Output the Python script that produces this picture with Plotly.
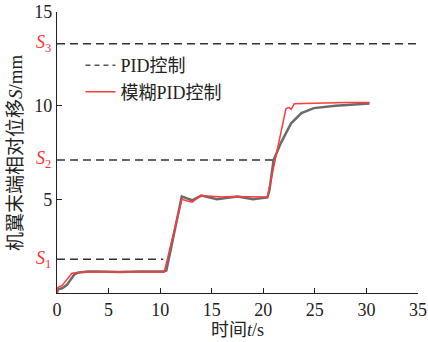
import plotly.graph_objects as go

# time (s) and displacement (mm)
t_pid = [0, 0.1, 0.5, 1.0, 1.3, 1.7, 2.0, 3, 4, 6, 8, 10.3, 10.6, 11.4, 12.1, 12.6, 13.1, 14.0, 15.5, 17.5, 19.0, 20.4,
         20.6, 21.0, 21.7, 22.7, 23.7, 24.9, 27.0, 30.3]
s_pid = [0, 0.2, 0.25, 0.45, 0.7, 1.0, 1.08, 1.15, 1.15, 1.12, 1.15, 1.15, 1.2, 3.3, 5.15, 5.05, 4.95, 5.2, 5.0, 5.15, 5.0, 5.1,
         5.5, 7.1, 8.0, 9.06, 9.6, 9.87, 10.0, 10.12]

t_fuzzy = [0, 0.1, 0.5, 1.45, 2.5, 4, 6, 8, 10.4, 11.3, 12.1, 12.6, 13.1, 13.9, 15, 16, 17, 18, 19, 20.4,
           21.3, 22.2, 22.5, 22.7, 23.0, 24, 26, 28, 30.3]
s_fuzzy = [0, 0.3, 0.4, 1.05, 1.12, 1.12, 1.1, 1.12, 1.12, 3.2, 5.0, 4.92, 4.85, 5.2, 5.15, 5.12, 5.15, 5.15, 5.12, 5.12,
           7.5, 9.85, 9.9, 9.8, 10.1, 10.12, 10.15, 10.17, 10.17]

# thresholds and their drawn extents
s_levels = [1.8, 7.1, 13.3]
s_names = ["<i>S</i><sub>1</sub>", "<i>S</i><sub>2</sub>", "<i>S</i><sub>3</sub>"]
s_end = [10.3, 21.0, 35.0]

x_ticks = [0, 5, 10, 15, 20, 25, 30, 35]
y_ticks = [5, 10, 15]

serif = "'Liberation Serif', 'Times New Roman', 'Noto Sans CJK SC', serif"

fig = go.Figure()
for lvl, end in zip(s_levels, s_end):
    fig.add_trace(go.Scatter(x=[0, end], y=[lvl, lvl], mode="lines", showlegend=False,
                             line=dict(color="#333333", width=1.5, dash="8px,5px")))
fig.add_trace(go.Scatter(x=t_pid, y=s_pid, mode="lines", showlegend=False,
                         line=dict(color="#6a6a6a", width=2.5)))
fig.add_trace(go.Scatter(x=t_fuzzy, y=s_fuzzy, mode="lines", showlegend=False,
                         line=dict(color="#ff3b3b", width=1.5)))
# legend entries
fig.add_trace(go.Scatter(x=[None], y=[None], mode="lines", name="PID控制",
                         line=dict(color="#555555", width=1.5, dash="5px,4px")))
fig.add_trace(go.Scatter(x=[None], y=[None], mode="lines", name="模糊PID控制",
                         line=dict(color="#ff3b3b", width=1.5)))

for lvl, nm in zip(s_levels, s_names):
    fig.add_annotation(x=0, xref="paper", y=lvl, yref="y", text=nm, showarrow=False,
                       xanchor="right", xshift=-4, font=dict(family=serif, size=18, color="#ff3030"))

fig.add_annotation(x=-0.115, xref="paper", xanchor="center", y=0.5, yref="paper", yanchor="middle",
                   text="机翼末端相对位移<i>S</i>/mm",
                   textangle=-90, showarrow=False, font=dict(family=serif, size=19, color="#222"))
fig.add_annotation(x=0.5, xref="paper", xanchor="center", y=-0.13, yref="paper", yanchor="middle",
                   text="时间<i>t</i>/s",
                   showarrow=False, font=dict(family=serif, size=18, color="#222"))

fig.update_layout(
    width=428, height=342,
    margin=dict(l=57, r=10, t=12, b=49),
    plot_bgcolor="white", paper_bgcolor="white",
    font=dict(family=serif, size=17, color="#222"),
    legend=dict(x=0.065, y=0.875, xanchor="left", yanchor="top", bgcolor="rgba(0,0,0,0)",
                font=dict(family=serif, size=18, color="#222"), itemwidth=30, tracegroupgap=0),
    xaxis=dict(range=[0, 35], tickvals=x_ticks, ticks="inside", ticklen=5, tickcolor="#222",
               showline=True, linecolor="#222", linewidth=1.2, showgrid=False, zeroline=False,
               automargin=False, tickfont=dict(family=serif, size=18)),
    yaxis=dict(range=[0, 15], tickvals=y_ticks, ticks="inside", ticklen=5, tickcolor="#222",
               showline=True, linecolor="#222", linewidth=1.2, showgrid=False, zeroline=False,
               automargin=False, tickfont=dict(family=serif, size=18)),
)
fig.write_html("out.html")
